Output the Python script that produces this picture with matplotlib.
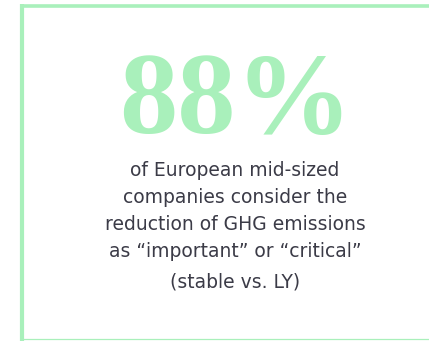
import matplotlib
matplotlib.use('Agg')
import matplotlib.pyplot as plt

# ----------------------------------------------------------------
# content
big_value = '88%'
body_lines = ['of European mid-sized',
              'companies consider the',
              'reduction of GHG emissions',
              'as \u201cimportant\u201d or \u201ccritical\u201d']
note_line = '(stable vs. LY)'

green = '#a9f0bb'
grey = '#3b3b47'

# ----------------------------------------------------------------
fig = plt.figure(figsize=(4.29, 3.41), dpi=100)
ax = fig.add_axes([0, 0, 1, 1])
ax.set_xlim(0, 429)
ax.set_ylim(341, 0)
ax.axis('off')

# FRAME (left + top thick, bottom thin, open on the right)
ax.plot([22, 22], [4, 341], color=green, lw=3.0, solid_capstyle='butt')
ax.plot([20, 429], [5.5, 5.5], color=green, lw=2.6, solid_capstyle='butt')
ax.plot([20, 429], [339, 339], color=green, lw=0.9, solid_capstyle='butt')

# BIG NUMBER
ax.text(236, 133, big_value, ha='center', va='baseline',
        fontsize=84, fontweight='bold', family='Liberation Serif', color=green)

# BODY TEXT
baselines = [176, 203, 230, 257]
for line, yb in zip(body_lines, baselines):
    ax.text(235, yb, line, ha='center', va='baseline',
            fontsize=13.5, family='DejaVu Sans', color=grey)
ax.text(235, 287, note_line, ha='center', va='baseline',
        fontsize=13.5, family='DejaVu Sans', color=grey)

fig.savefig('out.png', dpi=100)
